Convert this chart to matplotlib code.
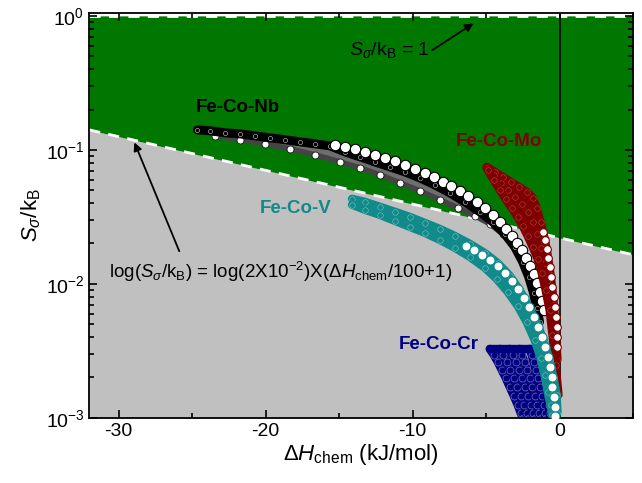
import numpy as np
import matplotlib.pyplot as plt
from matplotlib.ticker import MultipleLocator, LogLocator

plt.rcParams['font.family'] = ['Liberation Sans', 'DejaVu Sans']
plt.rcParams['mathtext.fontset'] = 'custom'
plt.rcParams['mathtext.rm'] = 'Liberation Sans'
plt.rcParams['mathtext.it'] = 'Liberation Sans:italic'
plt.rcParams['mathtext.bf'] = 'Liberation Sans:bold'
plt.rcParams['axes.unicode_minus'] = False

# region boundary (dashed white line)
bound_dH = [-32.0, 5.0]
bound_S = [0.141, 0.0165]

# Fe-Co-Nb
nb_top_dH = [-24.64, -23.76, -22.74, -21.72, -20.71, -19.69, -18.67, -17.65, -16.63, -15.61,
             -14.60, -13.58, -12.56, -11.54, -10.52, -9.50, -8.49, -7.47, -6.45, -5.43,
             -4.55, -3.73, -3.05, -2.51, -2.10, -1.77, -1.56, -1.36]
nb_top_S = [0.141, 0.1386, 0.1340, 0.1316, 0.1272, 0.1229, 0.1188, 0.1148, 0.1109, 0.1071,
            0.0966, 0.0887, 0.0813, 0.0747, 0.0685, 0.0618, 0.0548, 0.0478, 0.0409, 0.0345,
            0.0290, 0.0236, 0.0189, 0.0146, 0.0113, 0.00857, 0.00662, 0.00520]
nb_low_dH = [-23.42, -21.72, -20.03, -18.33, -16.63, -14.94, -13.58, -12.22, -10.86, -9.50,
             -8.15, -6.92, -5.77, -4.75, -3.87, -3.12, -2.58, -2.10, -1.77, -1.49]
nb_low_S = [0.1272, 0.1188, 0.1109, 0.1017, 0.0918, 0.0813, 0.0734, 0.0651, 0.0567, 0.0494,
            0.0424, 0.0369, 0.0322, 0.0281, 0.0236, 0.0192, 0.0154, 0.0121, 0.00934, 0.00722]
nb_w_dH = [-15.27, -14.60, -13.92, -13.24, -12.56, -11.88, -11.20, -10.52, -9.84, -9.16,
           -8.55, -7.94, -7.40, -6.79, -6.25, -5.63, -5.09, -4.55, -4.07, -3.67,
           -3.26, -2.92, -2.58, -2.31, -2.04, -1.77, -1.56, -1.36, -1.22, -1.09]
nb_w_S = [0.109, 0.105, 0.1017, 0.0966, 0.0918, 0.0871, 0.0828, 0.0773, 0.0721, 0.0673,
          0.0629, 0.0577, 0.0538, 0.0494, 0.0454, 0.0409, 0.0369, 0.0327, 0.0290, 0.0257,
          0.0228, 0.0202, 0.0179, 0.0156, 0.0136, 0.0119, 0.0102, 0.00872, 0.00747, 0.00640]

# Fe-Co-Mo
mo_a_dH = [-4.96, -4.41, -3.87, -3.33, -2.78, -2.24, -1.83, -1.56, -1.29, -1.02, -0.81, -0.61, -0.41, -0.27, -0.14]
mo_a_S = [0.0747, 0.0685, 0.0629, 0.0577, 0.0530, 0.0486, 0.0439, 0.0369, 0.0290, 0.0220,
          0.0165, 0.0117, 0.0076, 0.00454, 0.00271]
mo_b_dH = [-4.96, -4.48, -4.01, -3.53, -3.05, -2.58, -2.17, -1.83, -1.56, -1.29, -1.02, -0.81, -0.61, -0.48, -0.34, -0.20]
mo_b_S = [0.0734, 0.0651, 0.0567, 0.0503, 0.0446, 0.0395, 0.0345, 0.0290, 0.0236, 0.0186,
          0.0143, 0.0107, 0.0076, 0.00494, 0.00322, 0.00192]
mo_c_dH = [-4.89, -4.48, -4.07, -3.67, -3.26, -2.85, -2.51, -2.17, -1.83, -1.49, -1.22, -0.95, -0.68, -0.48, -0.27, -0.07]
mo_c_S = [0.0709, 0.0597, 0.0503, 0.0431, 0.0369, 0.0316, 0.0271, 0.0228, 0.0189, 0.0154,
          0.0121, 0.00902, 0.00640, 0.00416, 0.00249, 0.00149]
mo_w_dH = [-1.15, -1.02, -0.88, -0.81, -0.68, -0.61, -0.48, -0.41, -0.34, -0.27, -0.20, -0.20, -0.14]
mo_w_S = [0.0244, 0.0213, 0.0183, 0.0156, 0.0134, 0.0113, 0.00950, 0.00800, 0.00674, 0.00567,
          0.00477, 0.00402, 0.00339]

# Fe-Co-V
v_a_dH = [-14.12, -13.24, -12.22, -11.20, -10.18, -9.16, -8.15, -7.13, -6.11, -5.09,
          -4.21, -3.39, -2.72, -2.04, -1.49, -1.02, -0.68, -0.41, -0.20, -0.14]
v_a_S = [0.0431, 0.0409, 0.0376, 0.0345, 0.0316, 0.0285, 0.0257, 0.0228, 0.0199, 0.0170,
         0.0143, 0.0115, 0.00902, 0.00662, 0.00494, 0.00363, 0.00271, 0.00199, 0.00149, 0.00109]
v_b_dH = [-14.12, -13.24, -12.22, -11.20, -10.18, -9.16, -8.15, -7.13, -6.11, -5.09,
          -4.28, -3.53, -2.85, -2.24, -1.70, -1.29, -1.02, -0.81, -0.61, -0.48]
v_b_S = [0.0389, 0.0357, 0.0327, 0.0295, 0.0266, 0.0240, 0.0213, 0.0186, 0.0159, 0.0132,
         0.0109, 0.00872, 0.00685, 0.00520, 0.00382, 0.00280, 0.00209, 0.00156, 0.00125, 0.00105]
v_w_dH = [-6.38, -5.84, -5.30, -4.75, -4.21, -3.73, -3.26, -2.85, -2.44, -2.10, -1.77,
          -1.49, -1.22, -1.02, -0.81, -0.68, -0.54, -0.48, -0.41, -0.34, -0.34]
v_w_S = [0.0192, 0.0179, 0.0165, 0.0151, 0.0136, 0.0121, 0.0105, 0.00918, 0.00787, 0.00674, 0.00567,
         0.00477, 0.00402, 0.00339, 0.00285, 0.00240, 0.00202, 0.00170, 0.00143, 0.00121, 0.00103]

# Fe-Co-Cr
cr_S = [0.00327, 0.00295, 0.00262, 0.00228, 0.00199, 0.00170, 0.00146, 0.00125, 0.00109, 0.00100]
cr_dH = [
    [-4.75, -4.48, -4.21, -3.94, -3.67, -3.39, -3.12, -2.85, -2.65, -2.51],
    [-4.07, -3.87, -3.60, -3.39, -3.12, -2.92, -2.65, -2.44, -2.24, -2.10],
    [-3.39, -3.19, -2.99, -2.78, -2.58, -2.38, -2.17, -1.97, -1.83, -1.70],
    [-2.72, -2.58, -2.38, -2.24, -2.04, -1.90, -1.70, -1.56, -1.43, -1.29],
    [-2.04, -1.90, -1.77, -1.63, -1.49, -1.36, -1.22, -1.09, -1.02, -0.95],
    [-1.36, -1.29, -1.15, -1.09, -0.95, -0.88, -0.81, -0.75, -0.68, -0.61],
]

green = '#007800'
gray = '#c0c0c0'
nb_c = 'black'
mo_c = '#800000'
v_c = '#108a8a'
cr_c = '#000080'


def band(ax, x1, y1, x2, y2, color, z):
    # filled strip between two edge curves
    ax.fill(list(x1) + list(x2)[::-1], list(y1) + list(y2)[::-1],
            color=color, lw=0, zorder=z)


fig, ax = plt.subplots(figsize=(6.42, 4.83), dpi=100)
fig.subplots_adjust(left=0.139, right=0.986, bottom=0.135, top=0.973)

ax.set_yscale('log')
ax.fill_between(bound_dH, 1e-3, bound_S, color=gray, lw=0, zorder=0)
ax.fill_between(bound_dH, bound_S, 1.0, color=green, lw=0, zorder=0)
ax.plot(bound_dH, bound_S, color='white', lw=2, dashes=(4, 3), zorder=1)
ax.axhline(1.0, color='white', lw=2, dashes=(4, 3), zorder=1)
ax.axvline(0, color='black', lw=1.2, zorder=1)

# Fe-Co-Nb
band(ax, nb_top_dH, nb_top_S, nb_low_dH, nb_low_S, '#6e6e6e', 2)
ax.plot(nb_low_dH, nb_low_S, color='#444444', lw=4, solid_capstyle='round', zorder=2)
ax.plot(nb_low_dH, nb_low_S, 'o', ms=5, mfc='white', mec=nb_c, mew=0.5, zorder=2)
ax.plot(nb_top_dH, nb_top_S, color=nb_c, lw=6.5, solid_capstyle='round', zorder=3)
ax.plot(nb_top_dH, nb_top_S, 'o', ms=3, mfc='none', mec='#d0d0d0', mew=0.4, zorder=3)
ax.plot(nb_w_dH, nb_w_S, 'o', ms=7.5, mfc='white', mec=nb_c, mew=0.8, zorder=4)

# Fe-Co-Cr
band(ax, cr_dH[0], cr_S, cr_dH[2], cr_S, cr_c, 2)
for i, xs in enumerate(cr_dH):
    ax.plot(xs, cr_S, color=cr_c, lw=6, solid_capstyle='round', zorder=2)
    ax.plot(xs, cr_S, 'o', ms=5, mfc='none', mec='#6060b0', mew=0.6, zorder=2)
ax.plot([xs[0] for xs in cr_dH], [cr_S[0]] * len(cr_dH), color=cr_c, lw=6,
        solid_capstyle='round', zorder=2)

# Fe-Co-Mo
band(ax, mo_a_dH, mo_a_S, mo_c_dH, mo_c_S, mo_c, 5)
for xs, ys in [(mo_a_dH, mo_a_S), (mo_b_dH, mo_b_S), (mo_c_dH, mo_c_S)]:
    ax.plot(xs, ys, color=mo_c, lw=6, solid_capstyle='round', zorder=5)
    ax.plot(xs, ys, 'o', ms=4, mfc='none', mec='#b04848', mew=0.4, zorder=5)
ax.plot(mo_w_dH, mo_w_S, 'o', ms=5.5, mfc='white', mec=mo_c, mew=0.8, zorder=6)

# Fe-Co-V
band(ax, v_a_dH, v_a_S, v_b_dH, v_b_S, v_c, 6)
for xs, ys in [(v_a_dH, v_a_S), (v_b_dH, v_b_S)]:
    ax.plot(xs, ys, color=v_c, lw=6, solid_capstyle='round', zorder=6)
    ax.plot(xs, ys, 'o', ms=4, mfc='none', mec='#7cc4c4', mew=0.4, zorder=6)
ax.plot(v_w_dH, v_w_S, 'o', ms=6.5, mfc='white', mec=v_c, mew=0.8, zorder=7)

# labels
ax.text(-21.9, 0.206, 'Fe-Co-Nb', color='black', fontsize=13.5, fontweight='bold', ha='center', va='center')
ax.text(-4.14, 0.115, 'Fe-Co-Mo', color=mo_c, fontsize=13.5, fontweight='bold', ha='center', va='center')
ax.text(-17.99, 0.0363, 'Fe-Co-V', color=v_c, fontsize=13.5, fontweight='bold', ha='center', va='center')
ax.text(-8.21, 0.00351, 'Fe-Co-Cr', color=cr_c, fontsize=13.5, fontweight='bold', ha='center', va='center')

ax.text(-11.6, 0.557, r'$S_{\sigma}$/k$_{\rm B}$ = 1', fontsize=14, ha='center', va='center')
ax.annotate('', xy=(-5.70, 0.902), xytext=(-8.83, 0.539),
            arrowprops=dict(arrowstyle='-|>', color='black', lw=1.3, mutation_scale=12))
ax.text(-19.0, 0.0123, r'log($S_{\sigma}$/k$_{\rm B}$) = log(2X10$^{-2}$)X($\Delta H_{\rm chem}$/100+1)',
        fontsize=13.5, ha='center', va='center')
ax.annotate('', xy=(-29.0, 0.1188), xytext=(-25.8, 0.01675),
            arrowprops=dict(arrowstyle='-|>', color='black', lw=1.3, mutation_scale=12))

ax.set_xlim(-32, 5)
ax.set_ylim(1e-3, 1.05)
ax.xaxis.set_major_locator(MultipleLocator(10))
ax.xaxis.set_minor_locator(MultipleLocator(5))
ax.yaxis.set_major_locator(LogLocator(base=10))
ax.yaxis.set_minor_locator(LogLocator(base=10, subs=np.arange(2, 10)))
ax.tick_params(which='both', direction='in', top=True, right=True, labelsize=14, width=1.2)
ax.tick_params(which='major', length=6)
ax.tick_params(which='minor', length=3.5)
for sp in ax.spines.values():
    sp.set_linewidth(1.3)

ax.set_xlabel(r'$\Delta H_{\rm chem}$ (kJ/mol)', fontsize=16, labelpad=2)
ax.set_ylabel(r'$S_{\sigma}$/k$_{\rm B}$', fontsize=16, labelpad=2)

fig.savefig('out.png', dpi=100)
